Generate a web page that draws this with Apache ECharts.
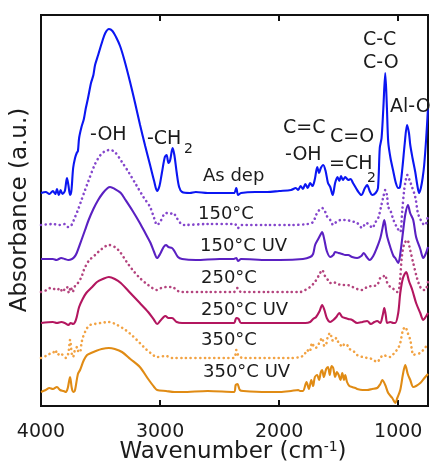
<!DOCTYPE html>
<html>
<head>
<meta charset="utf-8">
<script src="https://cdn.jsdelivr.net/npm/echarts@6/dist/echarts.min.js"></script>
<style>
html, body { margin: 0; padding: 0; background: #fff; }
#ftir { width: 430px; height: 465px; }
</style>
</head>
<body>
<div id="ftir"></div>
<script>
// FTIR spectra, wavenumber (cm-1) vs absorbance (a.u.), curves stacked with an offset
const xTicks = [4000, 3000, 2000, 1000]
const sampleNames = ['As dep', '150°C', '150°C UV', '250°C', '250°C UV', '350°C', '350°C UV']
const offsets = [2.13, 1.81, 1.47, 1.14, 0.83, 0.48, 0.14]

const asDep = [[4000,0],[3960,0.01],[3930,-0.01],[3900,0.02],[3880,-0.01],[3866,0.04],[3850,-0.02],[3835,0.03],[3820,-0.01],[3800,0.02],[3782,0.15],[3770,0.08],[3756,-0.02],[3745,0.02],[3730,0.25],[3714,0.35],[3700,0.40],[3690,0.42],[3680,0.55],[3660,0.66],[3640,0.74],[3625,0.84],[3605,0.95],[3580,1.10],[3560,1.18],[3546,1.28],[3520,1.38],[3487,1.51],[3460,1.60],[3429,1.64],[3400,1.62],[3370,1.56],[3336,1.47],[3300,1.33],[3252,1.11],[3210,0.90],[3168,0.68],[3125,0.47],[3084,0.28],[3050,0.12],[3025,0.02],[3005,0.07],[2985,0.20],[2960,0.36],[2945,0.38],[2930,0.30],[2915,0.33],[2895,0.45],[2880,0.38],[2860,0.20],[2840,0.06],[2815,0.01],[2750,0],[2700,0.01],[2600,0],[2500,0],[2380,0],[2360,0.05],[2345,-0.02],[2320,0],[2200,0.01],[2100,0.01],[2000,0.02],[1900,0.03],[1860,0.05],[1840,0.03],[1820,0.07],[1800,0.04],[1780,0.09],[1760,0.05],[1740,0.10],[1720,0.07],[1700,0.14],[1680,0.26],[1665,0.20],[1650,0.25],[1630,0.28],[1610,0.22],[1590,0.10],[1571,0.06],[1550,-0.02],[1530,0.10],[1510,0.16],[1495,0.12],[1480,0.17],[1465,0.13],[1445,0.16],[1420,0.13],[1400,0.14],[1380,0.10],[1360,0.06],[1340,0.02],[1310,-0.02],[1280,0.05],[1261,0.08],[1240,0.02],[1219,-0.02],[1190,0],[1170,0.05],[1155,0.45],[1140,0.55],[1125,0.85],[1109,1.20],[1095,0.85],[1084,0.51],[1065,0.35],[1042,0.22],[1020,0.10],[1000,0.05],[985,0.06],[965,0.25],[945,0.50],[926,0.68],[910,0.60],[899,0.48],[880,0.35],[857,0.21],[840,0.08],[825,0],[810,0.05],[795,0.15],[782,0.28],[765,0.55],[750,0.85]]

const c150 = [[4000,0],[3900,0.01],[3850,0],[3800,0.01],[3773,-0.02],[3750,-0.01],[3735,0.02],[3714,0.08],[3690,0.15],[3660,0.25],[3630,0.35],[3605,0.43],[3546,0.61],[3500,0.70],[3460,0.74],[3420,0.75],[3380,0.73],[3320,0.63],[3260,0.52],[3200,0.40],[3140,0.28],[3084,0.18],[3050,0.07],[3025,0],[3000,0.03],[2970,0.10],[2950,0.12],[2920,0.11],[2890,0.12],[2860,0.07],[2830,0.02],[2800,0],[2600,0.01],[2380,0.01],[2360,0],[2345,-0.03],[2320,0],[2100,0],[1900,0],[1760,0.01],[1715,0.03],[1690,0.10],[1670,0.14],[1640,0.17],[1620,0.15],[1600,0.09],[1571,0.05],[1546,0],[1520,0.03],[1480,0.05],[1445,0.05],[1400,0.04],[1345,0.02],[1303,-0.03],[1270,0.02],[1240,0],[1219,-0.03],[1190,0.03],[1168,0.07],[1145,0.18],[1125,0.28],[1109,0.35],[1095,0.30],[1084,0.18],[1067,0.15],[1040,0.05],[1008,-0.03],[983,-0.07],[966,0.15],[950,0.35],[935,0.46],[924,0.50],[905,0.45],[890,0.40],[857,0.28],[835,0.12],[815,0.06],[790,0.01],[773,0],[750,0.10]]

const c150uv = [[4000,0],[3900,0],[3870,-0.01],[3830,0.01],[3800,0],[3770,-0.01],[3740,0],[3720,0.02],[3700,0.06],[3660,0.19],[3630,0.29],[3600,0.39],[3560,0.50],[3520,0.59],[3480,0.66],[3440,0.71],[3420,0.72],[3380,0.70],[3330,0.66],[3290,0.59],[3230,0.48],[3170,0.36],[3120,0.25],[3080,0.16],[3050,0.07],[3025,0.01],[3000,0.05],[2970,0.12],[2950,0.14],[2930,0.12],[2900,0.11],[2880,0.08],[2850,0.02],[2815,0],[2700,-0.01],[2500,0],[2380,0],[2360,0.01],[2345,-0.02],[2320,0],[2100,-0.01],[1992,-0.01],[1800,0],[1740,0.02],[1715,0.05],[1698,0.14],[1672,0.20],[1650,0.25],[1639,0.27],[1620,0.19],[1600,0.08],[1571,0.02],[1545,0.04],[1530,0.07],[1500,0.06],[1470,0.05],[1445,0.04],[1420,0.04],[1387,0.02],[1345,0.01],[1310,0.03],[1290,0.06],[1265,0.02],[1240,-0.01],[1210,0.03],[1180,0.11],[1150,0.21],[1125,0.35],[1117,0.39],[1100,0.27],[1092,0.22],[1067,0.12],[1040,0.03],[1025,0.01],[1000,-0.04],[983,0.05],[958,0.29],[940,0.45],[918,0.54],[900,0.46],[874,0.39],[850,0.22],[815,0.10],[790,0.01],[770,0.05],[750,0.12]]

const c250 = [[4000,0],[3950,0.02],[3920,0.04],[3890,0.03],[3866,0.02],[3840,0.04],[3820,0],[3800,0.03],[3782,0.05],[3765,-0.01],[3750,0.05],[3735,0],[3714,0.06],[3690,0.09],[3660,0.15],[3640,0.22],[3600,0.31],[3546,0.37],[3490,0.43],[3430,0.47],[3380,0.45],[3336,0.40],[3280,0.30],[3230,0.22],[3170,0.14],[3100,0.07],[3025,0.02],[2990,0.04],[2950,0.05],[2900,0.05],[2850,0.01],[2815,0],[2600,0],[2380,0],[2350,0.04],[2320,0],[2100,0],[1900,0],[1824,0],[1780,0.02],[1740,0.05],[1700,0.10],[1660,0.18],[1639,0.22],[1615,0.16],[1590,0.12],[1571,0.09],[1545,0.10],[1510,0.08],[1470,0.07],[1429,0.07],[1400,0.06],[1345,0.03],[1303,0.02],[1261,0.05],[1219,0.06],[1177,0.07],[1151,0.14],[1130,0.15],[1109,0.17],[1095,0.10],[1067,0.05],[1040,0.03],[1008,0],[990,0.05],[970,0.35],[950,0.48],[924,0.52],[900,0.42],[874,0.29],[840,0.13],[815,0.05],[790,0.02],[773,0.02],[750,0.10]]

const c250uv = [[4000,0],[3900,0.01],[3866,0],[3830,0.01],[3800,0],[3770,-0.02],[3750,0],[3730,-0.01],[3714,0.01],[3700,0.06],[3680,0.16],[3650,0.24],[3620,0.30],[3570,0.36],[3530,0.41],[3480,0.44],[3430,0.46],[3380,0.44],[3330,0.40],[3250,0.30],[3170,0.20],[3100,0.11],[3050,0.03],[3025,-0.01],[3000,0.02],[2970,0.06],[2955,0.07],[2930,0.05],[2900,0.05],[2860,0.01],[2815,0],[2600,0],[2380,0],[2360,0.05],[2340,0.04],[2320,0],[2100,0],[1900,0],[1780,0],[1740,0.01],[1715,0.04],[1690,0.06],[1660,0.12],[1639,0.18],[1620,0.13],[1600,0.05],[1571,0.01],[1545,0.03],[1520,0.06],[1495,0.10],[1470,0.06],[1445,0.05],[1420,0.04],[1387,0.03],[1345,0],[1300,0.01],[1261,0.02],[1230,-0.01],[1200,0.01],[1177,0.02],[1151,0],[1130,0.08],[1117,0.15],[1105,0.08],[1092,0],[1067,0.01],[1040,0],[1025,0],[1000,0.10],[983,0.30],[960,0.45],[933,0.51],[910,0.42],[882,0.33],[850,0.20],[815,0.10],[790,0.03],[770,0.06],[750,0.10]]

const c350 = [[4000,0],[3960,0.02],[3930,0.04],[3900,0.05],[3880,0.08],[3860,0.03],[3840,0.05],[3810,0.02],[3790,0],[3770,0.05],[3756,0.18],[3740,0.03],[3731,0.01],[3715,0.08],[3697,0.11],[3685,0.06],[3672,0.06],[3660,0.15],[3647,0.21],[3630,0.26],[3613,0.30],[3588,0.33],[3550,0.34],[3500,0.35],[3430,0.36],[3360,0.33],[3290,0.28],[3230,0.22],[3170,0.15],[3120,0.09],[3080,0.05],[3025,0.01],[2950,0.02],[2900,0],[2800,0],[2600,0],[2380,0],[2360,0.08],[2340,0.02],[2300,0],[2000,0],[1900,0],[1824,0.01],[1790,0.03],[1765,0.08],[1745,0.06],[1723,0.15],[1700,0.10],[1681,0.11],[1660,0.16],[1639,0.20],[1620,0.12],[1605,0.14],[1590,0.22],[1571,0.25],[1555,0.18],[1538,0.17],[1520,0.20],[1504,0.16],[1485,0.13],[1471,0.11],[1450,0.14],[1429,0.13],[1410,0.09],[1387,0.08],[1360,0.05],[1345,0.03],[1300,0.01],[1261,0],[1220,-0.01],[1177,-0.04],[1150,0],[1126,0.03],[1100,0.02],[1067,0.01],[1040,0.04],[1025,0.06],[1000,0.10],[983,0.15],[960,0.28],[941,0.31],[920,0.25],[899,0.18],[885,0.08],[874,0.03],[850,0.04],[815,0.05],[790,0.08],[750,0.14]]

const c350uv = [[4000,0],[3960,0.02],[3930,0.04],[3900,0.03],[3866,0.05],[3840,0.02],[3810,0.01],[3790,0],[3775,0.04],[3756,0.15],[3740,0.03],[3725,0],[3714,0.02],[3690,0.18],[3672,0.22],[3640,0.32],[3613,0.37],[3580,0.39],[3540,0.41],[3490,0.43],[3430,0.44],[3380,0.43],[3320,0.40],[3250,0.33],[3170,0.25],[3100,0.13],[3050,0.05],[3025,0.02],[2950,0.01],[2880,0],[2815,0],[2600,0.01],[2380,0],[2365,0.07],[2350,0.08],[2330,0.02],[2300,0.01],[2100,0],[1992,0],[1900,0.01],[1840,0.02],[1824,0.01],[1800,0.01],[1770,0.10],[1750,0.03],[1730,0.12],[1715,0.06],[1700,0.15],[1681,0.17],[1665,0.12],[1650,0.20],[1639,0.22],[1625,0.15],[1605,0.23],[1590,0.25],[1575,0.17],[1560,0.26],[1546,0.24],[1530,0.15],[1515,0.20],[1500,0.17],[1485,0.12],[1470,0.19],[1455,0.12],[1445,0.17],[1430,0.10],[1410,0.06],[1387,0.05],[1360,0.04],[1345,0.03],[1300,0.02],[1261,0.02],[1220,0.03],[1177,0.04],[1150,0.08],[1134,0.12],[1109,0.07],[1084,-0.01],[1050,-0.06],[1025,-0.11],[1008,-0.06],[983,0.02],[960,0.18],[941,0.27],[920,0.18],[899,0.12],[874,0.05],[850,0.06],[815,0.09],[780,0.14],[750,0.18]]

const spectra = [asDep, c150, c150uv, c250, c250uv, c350, c350uv]
const isDotted = [false, true, false, true, false, true, false]
const lineColors = ['#0b16f2', '#8446cc', '#5a20c2', '#b4447e', '#b3165f', '#f2a344', '#e08b14']

const font = 'DejaVu Sans'
const ink = '#1b1b1b'

const chart = echarts.init(document.getElementById('ftir'))

const series = spectra.map((d, i) => ({
  name: sampleNames[i],
  type: 'line',
  showSymbol: false,
  smooth: 0.3,
  z: 10 - i,
  data: d.map(p => [p[0], p[1] + offsets[i]]),
  lineStyle: isDotted[i]
    ? { color: lineColors[i], width: 2.6, type: [0.1, 4.6], cap: 'round' }
    : { color: lineColors[i], width: 2.1 }
}))

// text labels next to the curves
const txt = (s, x, y, size) => ({
  type: 'text', x: x, y: y, z: 100,
  style: { text: s, fontFamily: font, fontSize: size || 18, fill: ink, verticalAlign: 'middle' }
})
const sampleLabelPos = [[203, 176], [198, 214], [200, 246], [201, 278], [201, 310], [201, 340], [203, 372]]
const graphics = sampleNames.map((n, i) => txt(n, sampleLabelPos[i][0], sampleLabelPos[i][1], 18))
graphics.push(
  txt('-OH', 90, 135, 19),
  txt('-CH', 147, 139, 19), txt('2', 184, 149, 14),
  txt('C=C', 283, 128, 19),
  txt('-OH', 285, 155, 19),
  txt('C=O', 330, 137, 19),
  txt('=CH', 329, 164, 19), txt('2', 367, 178, 14),
  txt('C-C', 363, 40, 19),
  txt('C-O', 363, 63, 19),
  txt('Al-O', 390, 107, 19),
  {
    type: 'text', x: 20, y: 210, rotation: Math.PI / 2, z: 100,
    style: { text: 'Absorbance (a.u.)', fontFamily: font, fontSize: 23, fill: ink, align: 'center', verticalAlign: 'middle' }
  },
  {
    type: 'text', x: 233, y: 452, z: 100,
    style: {
      text: 'Wavenumber (cm{sup|-1})', fontFamily: font, fontSize: 23, fill: ink,
      align: 'center', verticalAlign: 'middle',
      rich: { sup: { fontFamily: font, fontSize: 14, fill: ink, verticalAlign: 'top' } }
    }
  }
)

const option = {
  animation: false,
  backgroundColor: '#fff',
  grid: {
    left: 41, right: 2, top: 15, bottom: 59,
    outerBoundsMode: 'none',
    show: true, borderColor: '#111', borderWidth: 2, backgroundColor: 'transparent'
  },
  xAxis: [
    {
      type: 'value', inverse: true, min: 750, max: 4000, position: 'bottom',
      splitLine: { show: false },
      axisLine: { show: true, lineStyle: { color: '#111', width: 2 } },
      axisTick: { show: true, inside: true, length: 6, customValues: [3000, 2000, 1000], lineStyle: { color: '#111', width: 2 } },
      axisLabel: {
        customValues: xTicks, margin: 17, fontFamily: font, fontSize: 19, color: ink,
        showMinLabel: true, showMaxLabel: true,
        formatter: v => String(v)
      }
    },
    {
      type: 'value', inverse: true, min: 750, max: 4000, position: 'top',
      splitLine: { show: false },
      axisLine: { show: true, lineStyle: { color: '#111', width: 2 } },
      axisTick: { show: true, inside: true, length: 6, customValues: [3000, 2000, 1000], lineStyle: { color: '#111', width: 2 } },
      axisLabel: { show: false }
    }
  ],
  yAxis: {
    type: 'value', min: 0, max: 3.91,
    splitLine: { show: false },
    axisLine: { show: true, lineStyle: { color: '#111', width: 2 } },
    axisTick: { show: false },
    axisLabel: { show: false }
  },
  series: series,
  graphic: graphics
}

chart.setOption(option)
</script>
</body>
</html>
